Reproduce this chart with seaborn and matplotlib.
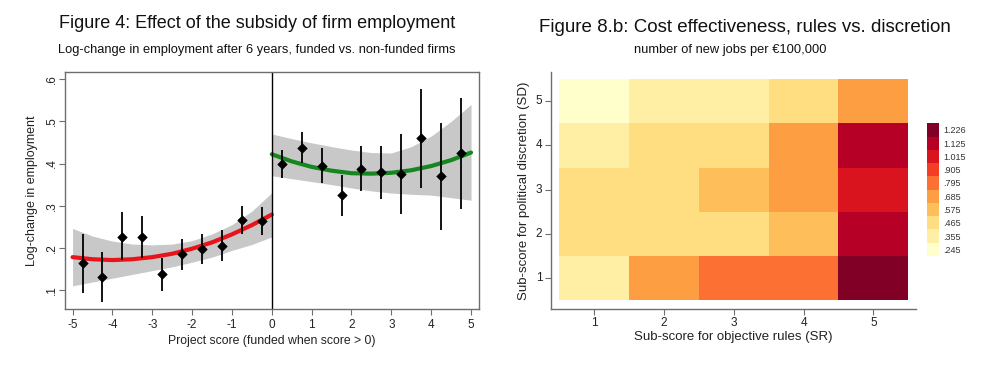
import numpy as np
import pandas as pd
import seaborn as sns
import matplotlib.pyplot as plt
from matplotlib.colors import ListedColormap, BoundaryNorm

# --- left panel: binned means with 95% bars ---
bin_x_left = [-4.75, -4.25, -3.75, -3.25, -2.75, -2.25, -1.75, -1.25, -0.75, -0.25]
bin_y_left = [0.163, 0.132, 0.226, 0.225, 0.139, 0.185, 0.198, 0.204, 0.267, 0.264]
bin_lo_left = [0.094, 0.072, 0.171, 0.175, 0.098, 0.147, 0.161, 0.169, 0.234, 0.230]
bin_hi_left = [0.232, 0.189, 0.284, 0.276, 0.177, 0.222, 0.234, 0.242, 0.300, 0.296]

bin_x_right = [0.25, 0.75, 1.25, 1.75, 2.25, 2.75, 3.25, 3.75, 4.25, 4.75]
bin_y_right = [0.400, 0.437, 0.395, 0.325, 0.388, 0.380, 0.375, 0.460, 0.370, 0.424]
bin_lo_right = [0.366, 0.402, 0.353, 0.276, 0.334, 0.316, 0.280, 0.343, 0.242, 0.291]
bin_hi_right = [0.433, 0.474, 0.437, 0.373, 0.442, 0.442, 0.469, 0.576, 0.497, 0.555]

# quadratic fits and their bands
fit_x_left = [-5, -4.5, -4, -3.5, -3, -2.5, -2, -1.5, -1, -0.5, 0]
fit_y_left = [0.178, 0.173, 0.171, 0.173, 0.178, 0.186, 0.198, 0.213, 0.232, 0.254, 0.279]
band_lo_left = [0.110, 0.119, 0.128, 0.137, 0.146, 0.155, 0.166, 0.178, 0.194, 0.208, 0.226]
band_hi_left = [0.246, 0.228, 0.216, 0.209, 0.207, 0.209, 0.217, 0.233, 0.255, 0.287, 0.331]

fit_x_right = [0, 0.5, 1, 1.5, 2, 2.5, 3, 3.5, 4, 4.5, 5]
fit_y_right = [0.422, 0.405, 0.392, 0.383, 0.377, 0.376, 0.378, 0.384, 0.394, 0.408, 0.426]
band_lo_right = [0.371, 0.364, 0.357, 0.350, 0.342, 0.335, 0.330, 0.327, 0.325, 0.319, 0.313]
band_hi_right = [0.470, 0.459, 0.449, 0.440, 0.432, 0.426, 0.425, 0.440, 0.465, 0.500, 0.540]

# --- right panel: jobs per 100k by sub-scores ---
sr_labels = ["1", "2", "3", "4", "5"]
sd_labels = ["5", "4", "3", "2", "1"]
jobs_sd5 = [0.245, 0.355, 0.355, 0.465, 0.685]
jobs_sd4 = [0.355, 0.465, 0.465, 0.685, 1.125]
jobs_sd3 = [0.465, 0.465, 0.575, 0.685, 1.015]
jobs_sd2 = [0.465, 0.465, 0.465, 0.575, 1.125]
jobs_sd1 = [0.355, 0.685, 0.795, 0.795, 1.226]
legend_labels = [".245", ".355", ".465", ".575", ".685", ".795", ".905", "1.015", "1.125", "1.226"]
bin_edges = [0.19, 0.30, 0.41, 0.52, 0.63, 0.74, 0.85, 0.96, 1.07, 1.18, 1.28]

sns.set_theme(style="white")
plt.rcParams['font.family'] = ['Liberation Sans', 'DejaVu Sans']
frame_col = "#6e6e6e"

fig = plt.figure(figsize=(10, 3.75), dpi=100)

# ================= left =================
ax = fig.add_axes([0.065, 0.176, 0.414, 0.632])
ax.fill_between(fit_x_left, band_lo_left, band_hi_left, color="#c8c8c8", lw=0)
ax.fill_between(fit_x_right, band_lo_right, band_hi_right, color="#c8c8c8", lw=0)
sns.lineplot(x=fit_x_left, y=fit_y_left, ax=ax, color="#e8141a", lw=3)
sns.lineplot(x=fit_x_right, y=fit_y_right, ax=ax, color="#16871f", lw=3)
ax.axvline(0, color="black", lw=1)

pts = pd.DataFrame({
    "x": bin_x_left + bin_x_right,
    "y": bin_y_left + bin_y_right,
    "lo": bin_lo_left + bin_lo_right,
    "hi": bin_hi_left + bin_hi_right,
})
ax.vlines(pts["x"], pts["lo"], pts["hi"], color="black", lw=1.3, zorder=4)
sns.scatterplot(data=pts, x="x", y="y", ax=ax, marker="D", s=24,
                color="black", edgecolor="black", zorder=5)

ax.set_xlim(-5.19, 5.2)
ax.set_ylim(0.055, 0.617)
ax.set_xticks(range(-5, 6))
ax.set_xticklabels([str(v) for v in range(-5, 6)])
yt = [0.1, 0.2, 0.3, 0.4, 0.5, 0.6]
ax.set_yticks(yt)
ax.set_yticklabels([".1", ".2", ".3", ".4", ".5", ".6"], rotation=90, va="center")
ax.tick_params(axis="both", direction="out", length=4, width=0.8,
               color=frame_col, labelsize=8.5, labelcolor="#222222", pad=3,
               bottom=True, left=True)
ax.tick_params(axis="y", pad=1)
for s in ax.spines.values():
    s.set_color(frame_col)
    s.set_linewidth(1)
ax.set_xlabel("Project score (funded when score > 0)", fontsize=8.8, color="#222222", labelpad=3)
ax.set_ylabel("Log-change in employment", fontsize=9, color="#222222", labelpad=6)

fig.text(0.257, 0.938, "Figure 4: Effect of the subsidy of firm employment",
         ha="center", va="center", fontsize=13, color="#111111")
fig.text(0.257, 0.866, "Log-change in employment after 6 years, funded vs. non-funded firms",
         ha="center", va="center", fontsize=9.3, color="#111111")

# ================= right =================
hm = pd.DataFrame([jobs_sd5, jobs_sd4, jobs_sd3, jobs_sd2, jobs_sd1],
                  index=sd_labels, columns=sr_labels)
cols = plt.get_cmap("YlOrRd")(np.linspace(0, 1, 10))
cmap = ListedColormap(cols)
norm = BoundaryNorm(bin_edges, cmap.N)
centers = [(bin_edges[i] + bin_edges[i + 1]) / 2 for i in range(10)]

ax2 = fig.add_axes([0.5507, 0.176, 0.365, 0.632])
cax = fig.add_axes([0.9267, 0.3173, 0.012, 0.354])
sns.heatmap(hm, ax=ax2, cmap=cmap, norm=norm, cbar_ax=cax,
            cbar_kws={"ticks": centers})
ax2.set_xlim(-0.123, 5.106)
ax2.set_ylim(5.204, -0.165)
ax2.set_yticklabels(sd_labels, rotation=0)
ax2.set_xticklabels(sr_labels, rotation=0)
ax2.tick_params(axis="both", direction="out", length=4, width=0.8,
                color=frame_col, labelsize=8.5, labelcolor="#222222", pad=2,
                bottom=True, left=True)
for side in ["left", "bottom"]:
    ax2.spines[side].set_visible(True)
    ax2.spines[side].set_color(frame_col)
    ax2.spines[side].set_linewidth(1)
ax2.set_xlabel("Sub-score for objective rules (SR)", fontsize=9.5, color="#222222", labelpad=1)
ax2.set_ylabel("Sub-score for political discretion (SD)", fontsize=9.5, color="#222222", labelpad=4)

cax.set_yticklabels(legend_labels)
cax.minorticks_off()
cax.tick_params(which="both", length=0, width=0, labelsize=6.5, labelcolor="#333333", pad=3)
for s in cax.spines.values():
    s.set_visible(False)

fig.text(0.745, 0.928, "Figure 8.b: Cost effectiveness, rules vs. discretion",
         ha="center", va="center", fontsize=13.5, color="#111111")
fig.text(0.730, 0.866, "number of new jobs per \u20ac100,000",
         ha="center", va="center", fontsize=9.3, color="#111111")

fig.savefig("out.png", dpi=100)
